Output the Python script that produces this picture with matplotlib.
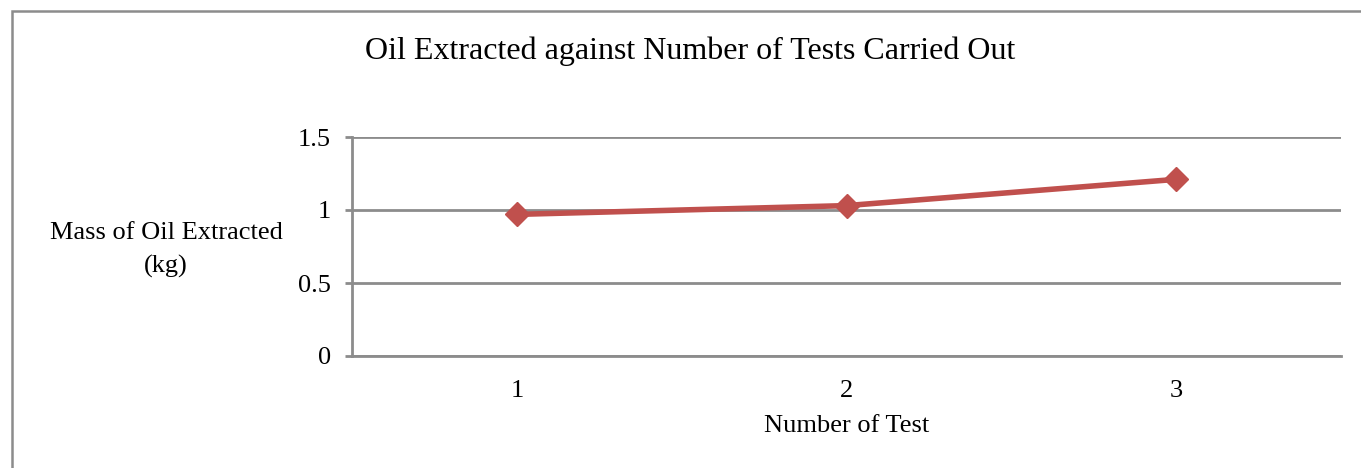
import matplotlib
matplotlib.use("Agg")
import matplotlib.pyplot as plt
from matplotlib.patches import Rectangle

# data
tests = [1, 2, 3]
mass_kg = [0.97, 1.03, 1.21]
yticks = [0, 0.5, 1, 1.5]
ytick_labels = ["0", "0.5", "1", "1.5"]

plt.rcParams['font.family'] = ['Liberation Serif', 'DejaVu Serif']
grey = '#8c8c8c'

fig = plt.figure(figsize=(13.61, 4.68), dpi=100)
ax = fig.add_axes([352/1361, 1 - 356/468, (1341-352)/1361, (356-137)/468])

ax.plot(tests, mass_kg, color='#c0504d', lw=4, marker='D', markersize=12,
        markeredgecolor='#c0504d', zorder=3, clip_on=False)

ax.set_xlim(0.5, 3.5)
ax.set_ylim(0, 1.5)
ax.set_yticks(yticks)
ax.set_yticklabels(ytick_labels)
ax.set_xticks(tests)
ax.set_xticklabels([str(t) for t in tests])
ax.yaxis.grid(True, color=grey, lw=2)
ax.set_axisbelow(True)

for s in ['top', 'right']:
    ax.spines[s].set_visible(False)
ax.spines['left'].set_color(grey)
ax.spines['left'].set_linewidth(2)
ax.spines['bottom'].set_color(grey)
ax.spines['bottom'].set_linewidth(2)
ax.tick_params(axis='y', direction='out', length=5, width=2, color=grey,
               labelsize=19, pad=10)
ax.tick_params(axis='x', length=0, labelsize=19, pad=17)

ax.set_xlabel("Number of Test", fontsize=19, labelpad=10)
fig.text(166/1361, 1 - 250/468, "Mass of Oil Extracted\n(kg)", ha='center',
         va='center', fontsize=19, linespacing=1.65)
fig.text(690/1361, 1 - 51/468, "Oil Extracted against Number of Tests Carried Out",
         ha='center', va='center', fontsize=23)

# outer chart frame (partly cut off at right/bottom)
fig.patches.append(Rectangle((12/1361, -0.1), 1.2, 1 - 11/468 + 0.1,
                             transform=fig.transFigure, fill=False,
                             edgecolor=grey, lw=1.8))

fig.savefig("out.png", dpi=100)
